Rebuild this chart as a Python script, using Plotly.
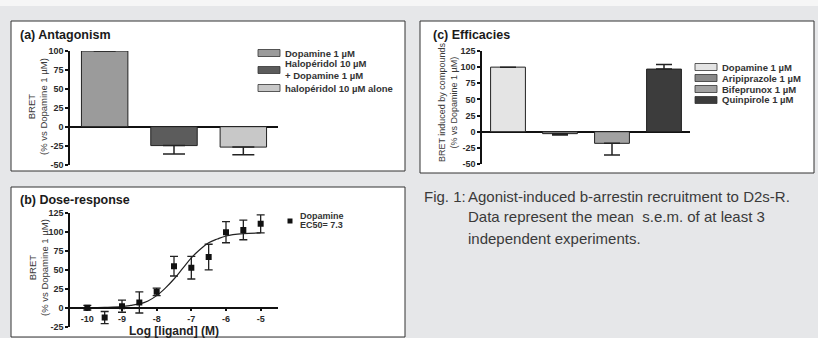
import plotly.graph_objects as go

W, H = 818, 338

# ---------------- data ----------------
# (a) Antagonism
a_labels = ["Dopamine 1 µM", "Halopéridol 10 µM<br>+ Dopamine 1 µM", "halopéridol 10 µM alone"]
a_values = [100, -25, -27]
a_err = [0, 11, 10]
a_colors = ["#9b9b9b", "#5c5c5c", "#c8c8c8"]
a_yticks = [-50, -25, 0, 25, 50, 75, 100]

# (b) Dose-response
b_logx = [-10, -9.5, -9, -8.5, -8, -7.5, -7, -6.5, -6, -5.5, -5]
b_y = [0, -13, 2, 7, 21, 55, 53, 67, 100, 103, 111]
b_err = [3, 8, 8, 14, 5, 13, 15, 17, 14, 13, 12]
b_fit_x = [-10, -9.5, -9, -8.75, -8.5, -8.25, -8, -7.75, -7.5, -7.25, -7, -6.75, -6.5, -6.25, -6, -5.5, -5]
b_fit_y = [0, 0.5, 1.5, 3, 5, 9, 16, 26, 38, 52, 66, 77, 86, 91, 95, 98, 99]
b_xticks = [-10, -9, -8, -7, -6, -5]
b_yticks = [-25, 0, 25, 50, 75, 100, 125]
b_legend = ["Dopamine", "EC50= 7.3"]

# (c) Efficacies
c_labels = ["Dopamine 1 µM", "Aripiprazole 1 µM", "Bifeprunox 1 µM", "Quinpirole 1 µM"]
c_values = [100, -3, -18, 97]
c_err = [0, 2, 18, 7]
c_colors = ["#e4e4e4", "#8a8a8a", "#a2a2a2", "#3c3c3c"]
c_yticks = [-50, -25, 0, 25, 50, 75, 100, 125]

caption_head = "Fig. 1:"
caption_lines = ["Agonist-induced b-arrestin recruitment to D2s-R.",
                 "Data represent the mean  s.e.m. of at least 3",
                 "independent experiments."]

FONT = "Arial, 'Liberation Sans', sans-serif"


def px(x):
    return x / W


def py(y):
    return 1 - y / H


def plus_err(vals, errs):
    return [None if e == 0 else (e if v > 0 else 0) for v, e in zip(vals, errs)]


def minus_err(vals, errs):
    return [None if e == 0 else (e if v < 0 else 0) for v, e in zip(vals, errs)]


fig = go.Figure()

# (a) bars
fig.add_trace(go.Bar(
    x=list(range(len(a_values))), y=a_values, width=0.67,
    marker=dict(color=a_colors, line=dict(color="#222", width=1)),
    error_y=dict(type="data", symmetric=False, array=plus_err(a_values, a_err),
                 arrayminus=minus_err(a_values, a_err), color="#222", thickness=1.5, width=11),
    xaxis="x", yaxis="y", showlegend=False))

# (b) dose-response
fig.add_trace(go.Scatter(
    x=b_fit_x, y=b_fit_y, mode="lines", line=dict(color="#222", width=1.2, shape="spline"),
    xaxis="x2", yaxis="y2", showlegend=False))
fig.add_trace(go.Scatter(
    x=b_logx, y=b_y, mode="markers",
    marker=dict(symbol="square", size=6, color="#111"),
    error_y=dict(type="data", array=b_err, color="#222", thickness=1.3, width=4),
    xaxis="x2", yaxis="y2", showlegend=False))

# (c) bars
fig.add_trace(go.Bar(
    x=list(range(len(c_values))), y=c_values, width=0.67,
    marker=dict(color=c_colors, line=dict(color="#222", width=1)),
    error_y=dict(type="data", symmetric=False, array=plus_err(c_values, c_err),
                 arrayminus=minus_err(c_values, c_err), color="#222", thickness=1.5, width=8),
    xaxis="x3", yaxis="y3", showlegend=False))

tickfont = dict(family=FONT, size=9, color="#2a2a2a", weight="bold")
yax_common = dict(showline=True, linecolor="#111", linewidth=1.5, ticks="outside", ticklen=3,
                  tickwidth=1.5, tickcolor="#111", showgrid=False, zeroline=True,
                  zerolinecolor="#111", zerolinewidth=1.5, tickfont=tickfont, automargin=False)

# domains
a_dom_x = [px(70), px(278)]
a_dom_y = [py(164.5), py(51)]
b_dom_x = [px(70), px(278)]
b_dom_y = [py(326.6), py(213.3)]
c_dom_x = [px(482), px(690)]
c_dom_y = [py(164), py(51)]

b_yrange = [-25, 125]
b_zero_pos = b_dom_y[0] + (0 - b_yrange[0]) / (b_yrange[1] - b_yrange[0]) * (b_dom_y[1] - b_dom_y[0])

fig.update_layout(
    width=W, height=H, margin=dict(l=0, r=0, t=0, b=0),
    paper_bgcolor="#e6e7e9", plot_bgcolor="rgba(0,0,0,0)",
    font=dict(family=FONT, color="#222"),
    xaxis=dict(domain=a_dom_x, range=[-0.5, 2.5], anchor="y", showticklabels=False,
               showline=False, zeroline=False, showgrid=False, ticks=""),
    yaxis=dict(domain=a_dom_y, range=[-50, 100], anchor="x", tickvals=a_yticks,
               ticktext=[str(t) for t in a_yticks], **yax_common),
    xaxis2=dict(domain=b_dom_x, range=[-10.5, -4.5], anchor="free", position=b_zero_pos,
                showline=True, linecolor="#111", linewidth=1.5, ticks="outside",
                ticklen=3, tickwidth=1.5, tickcolor="#111", tickvals=b_xticks,
                ticktext=[str(t) for t in b_xticks], tickfont=tickfont, showgrid=False,
                zeroline=False, automargin=False),
    yaxis2=dict(domain=b_dom_y, range=b_yrange, anchor="x2", tickvals=b_yticks,
                ticktext=[str(t) for t in b_yticks], **yax_common),
    xaxis3=dict(domain=c_dom_x, range=[-0.5, 3.5], anchor="y3", showticklabels=False,
                showline=False, zeroline=False, showgrid=False, ticks=""),
    yaxis3=dict(domain=c_dom_y, range=[-50, 125], anchor="x3", tickvals=c_yticks,
                ticktext=[str(t) for t in c_yticks], **yax_common),
)
fig.update_layout(yaxis2=dict(zeroline=False))

shapes = []
# top light strip
shapes.append(dict(type="rect", xref="paper", yref="paper", x0=0, x1=1, y0=py(6), y1=1,
                   fillcolor="#f6f6f6", line=dict(width=0), layer="below"))
# panel boxes
for (x0, y0, x1, y1) in [(11, 21, 405, 171), (11, 187, 405, 337), (420, 21, 814, 173)]:
    shapes.append(dict(type="rect", xref="paper", yref="paper", x0=px(x0), x1=px(x1),
                       y0=py(y1), y1=py(y0), fillcolor="white",
                       line=dict(color="#333", width=1), layer="below"))

ann = []
title_font = dict(family=FONT, size=12.5, color="#1a1a1a", weight="bold")
ann.append(dict(text="(a) Antagonism", x=px(18), y=py(35), xanchor="left", yanchor="middle",
                font=title_font))
ann.append(dict(text="(b) Dose-response", x=px(18), y=py(200), xanchor="left", yanchor="middle",
                font=title_font))
ann.append(dict(text="(c) Efficacies", x=px(431), y=py(35), xanchor="left", yanchor="middle",
                font=title_font))

ytitle_font = dict(family=FONT, size=9.5, color="#3a3a3a")
ann.append(dict(text="BRET<br>(% vs Dopamine 1 µM)", x=px(38), y=py(107), textangle=-90,
                xanchor="center", yanchor="middle", font=ytitle_font))
ann.append(dict(text="BRET<br>(% vs Dopamine 1 µM)", x=px(38), y=py(268), textangle=-90,
                xanchor="center", yanchor="middle", font=ytitle_font))
ann.append(dict(text="BRET induced by compounds<br>(% vs Dopamine 1 µM)", x=px(448), y=py(103),
                textangle=-90, xanchor="center", yanchor="middle", font=dict(ytitle_font, size=9)))
ann.append(dict(text="Log [ligand] (M)", x=px(174), y=py(331), xanchor="center", yanchor="middle",
                font=dict(family=FONT, size=12, color="#222", weight="bold")))

leg_font = dict(family=FONT, size=9.5, color="#333", weight="bold")
# legend (a)
a_rows = [53, 70, 88]
for lab, col, yy in zip(a_labels, a_colors, a_rows):
    shapes.append(dict(type="rect", xref="paper", yref="paper", x0=px(258), x1=px(280),
                       y0=py(yy + 3.5), y1=py(yy - 3.5), fillcolor=col,
                       line=dict(color="#333", width=0.8)))
    ann.append(dict(text=lab, x=px(283), y=py(yy), xanchor="left", yanchor="middle",
                    align="left", font=leg_font))
# legend (c)
c_rows = [67, 78, 89, 100]
for lab, col, yy in zip(c_labels, c_colors, c_rows):
    shapes.append(dict(type="rect", xref="paper", yref="paper", x0=px(695), x1=px(717),
                       y0=py(yy + 3.5), y1=py(yy - 3.5), fillcolor=col,
                       line=dict(color="#333", width=0.8)))
    ann.append(dict(text=lab, x=px(720), y=py(yy), xanchor="left", yanchor="middle",
                    align="left", font=leg_font))
# legend (b)
shapes.append(dict(type="rect", xref="paper", yref="paper", x0=px(287.5), x1=px(292.5),
                   y0=py(223.5), y1=py(218.5), fillcolor="#111", line=dict(width=0)))
ann.append(dict(text=b_legend[0], x=px(298), y=py(216), xanchor="left", yanchor="middle",
                font=dict(leg_font, size=9)))
ann.append(dict(text=b_legend[1], x=px(298), y=py(225), xanchor="left", yanchor="middle",
                font=dict(leg_font, size=9)))

# caption
cap_font = dict(family=FONT, size=15, color="#3a3a3a")
ann.append(dict(text=caption_head, x=px(422), y=py(196), xanchor="left", yanchor="middle",
                font=cap_font))
for line, yy in zip(caption_lines, [196, 217, 238]):
    ann.append(dict(text=line, x=px(466), y=py(yy), xanchor="left", yanchor="middle",
                    font=cap_font))

for a in ann:
    a.update(xref="paper", yref="paper", showarrow=False)

fig.update_layout(shapes=shapes, annotations=ann)
fig.write_html("out.html", config={"displayModeBar": False},
               post_script="document.body.style.margin='0';document.body.style.overflow='hidden';")
